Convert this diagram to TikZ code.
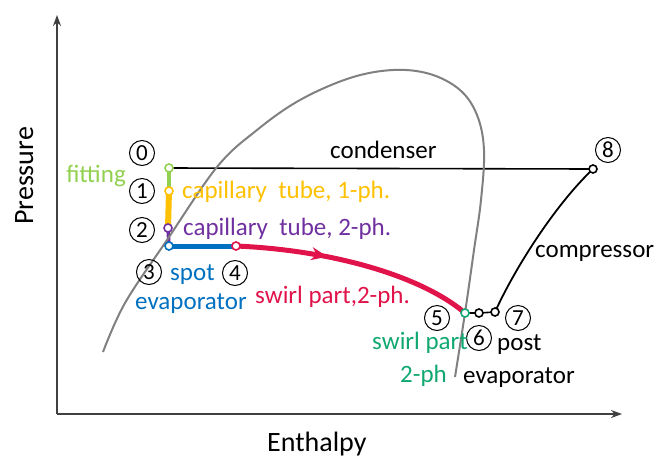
\documentclass[tikz,border=0pt]{standalone}
\usepackage{fontspec}
\setmainfont{Carlito}
\usetikzlibrary{arrows.meta,decorations.markings,backgrounds}

\definecolor{axisgray}{HTML}{404040}
\definecolor{domegray}{HTML}{808080}
\definecolor{fitgreen}{HTML}{92D050}
\definecolor{capyellow}{HTML}{FFC000}
\definecolor{cappurple}{HTML}{7030A0}
\definecolor{spotblue}{HTML}{0070C0}
\definecolor{swirlred}{HTML}{E0134A}
\definecolor{swirlgreen}{HTML}{10A870}

\tikzset{
  lbl/.style={font=\fontsize{25}{30}\selectfont, inner sep=0pt, anchor=base west},
  axislbl/.style={font=\fontsize{28}{33}\selectfont, inner sep=0pt, anchor=base west},
  num/.style={draw=black, line width=1pt, circle, minimum size=25pt, inner sep=0pt,
              font=\fontsize{23}{26}\selectfont},
  marker/.style={draw=#1, fill=white, circle, line width=1.6pt, minimum size=8pt, inner sep=0pt},
  thin line/.style={line width=1.6pt},
  mid line/.style={line width=3.5pt},
  thick line/.style={line width=5pt},
}

\begin{document}
\begin{tikzpicture}[x=1pt,y=-1pt]
\useasboundingbox (0,0) rectangle (654,459);

% axes
\coordinate (O) at (57,414);
\coordinate (ytop) at (57,15);
\coordinate (xend) at (622,414);
\draw[axisgray, line width=2pt, -{Stealth[length=11pt,width=8pt]}] (O) -- (ytop);
\draw[axisgray, line width=2pt, -{Stealth[length=11pt,width=8pt]}] (O) -- (xend);
\node[axislbl, rotate=90] (plabel) at (33,225) {Pressure};
\node[axislbl] (hlabel) at (267,451) {Enthalpy};

% saturation dome
\draw[domegray, line width=2pt] plot[smooth, tension=0.6] coordinates {
  (103,352) (125,303) (167,240) (217,167) (257,130) (300,100) (350,78)
  (393,70) (430,74) (460,90) (477,115) (484,150) (481,200) (474,250)
  (465,313) (455,377)};

% state points
\node[marker=fitgreen]   (p0) at (169,168) {};
\node[marker=capyellow]  (p1) at (169,191) {};
\node[marker=cappurple]  (p2) at (168,228) {};
\node[marker=spotblue]   (p3) at (169,246) {};
\node[marker=swirlred]   (p4) at (236,246) {};
\node[marker=swirlgreen] (p5) at (465,313) {};
\node[marker=black]      (p6) at (479,313) {};
\node[marker=black]      (p7) at (495,312) {};
\node[marker=black]      (p8) at (593,169) {};

% cycle segments
\begin{pgfonlayer}{background}
\draw[black, thin line] (p0.center) -- (p8.center);
\draw[fitgreen, mid line] (p0.center) -- (p1.center);
\draw[capyellow, line width=6pt] (p1.center) -- (p2.center);
\draw[cappurple, mid line] (p2.center) -- (p3.center);
\draw[spotblue, thick line] (p3.center) -- (p4.center);
\draw[swirlred, thick line,
      decoration={markings, mark=at position 0.38 with
        {\arrow{Stealth[length=16pt,width=13pt]}}},
      postaction={decorate}]
  (p4.center) .. controls (330,250) and (420,275) .. (p5.center);
\draw[black, thin line] (p5.center) -- (p6.center) -- (p7.center);
\draw[black, line width=1.8pt] (p7.center) .. controls (515,268) and (555,205) .. (p8.center);
\end{pgfonlayer}

% point numbers
\node[num] (n0) at (142,153) {0};
\node[num] (n1) at (142,191) {1};
\node[num] (n2) at (142,230) {2};
\node[num] (n3) at (149,272) {3};
\node[num] (n4) at (235,273) {4};
\node[num] (n5) at (437,318) {5};
\node[num] (n6) at (479,338) {6};
\node[num] (n7) at (518,318) {7};
\node[num] (n8) at (608,150) {8};

% process labels
\node[lbl] (tcond) at (330,158) {condenser};
\node[lbl, anchor=base east, text=fitgreen] (tfit) at (126,182) {fitting};
\node[lbl, text=capyellow] (tcap1) at (182,198) {capillary\ \ tube, 1-ph.};
\node[lbl, text=cappurple] (tcap2) at (183,235) {capillary\ \ tube, 2-ph.};
\node[lbl, text=spotblue] (tspot) at (170,280) {spot};
\node[lbl, text=spotblue] (tspotevap) at (135,309) {evaporator};
\node[lbl, text=swirlred] (tswirl) at (255,303) {swirl part,2-ph.};
\node[lbl, text=swirlgreen] (tswirlg) at (372,349) {swirl part};
\node[lbl, text=swirlgreen] (tswirlg2) at (400,382) {2-ph};
\node[lbl] (tpost) at (497,350) {post};
\node[lbl] (tpostevap) at (463,383) {evaporator};
\node[lbl] (tcomp) at (535,257) {compressor};
\end{tikzpicture}
\end{document}
